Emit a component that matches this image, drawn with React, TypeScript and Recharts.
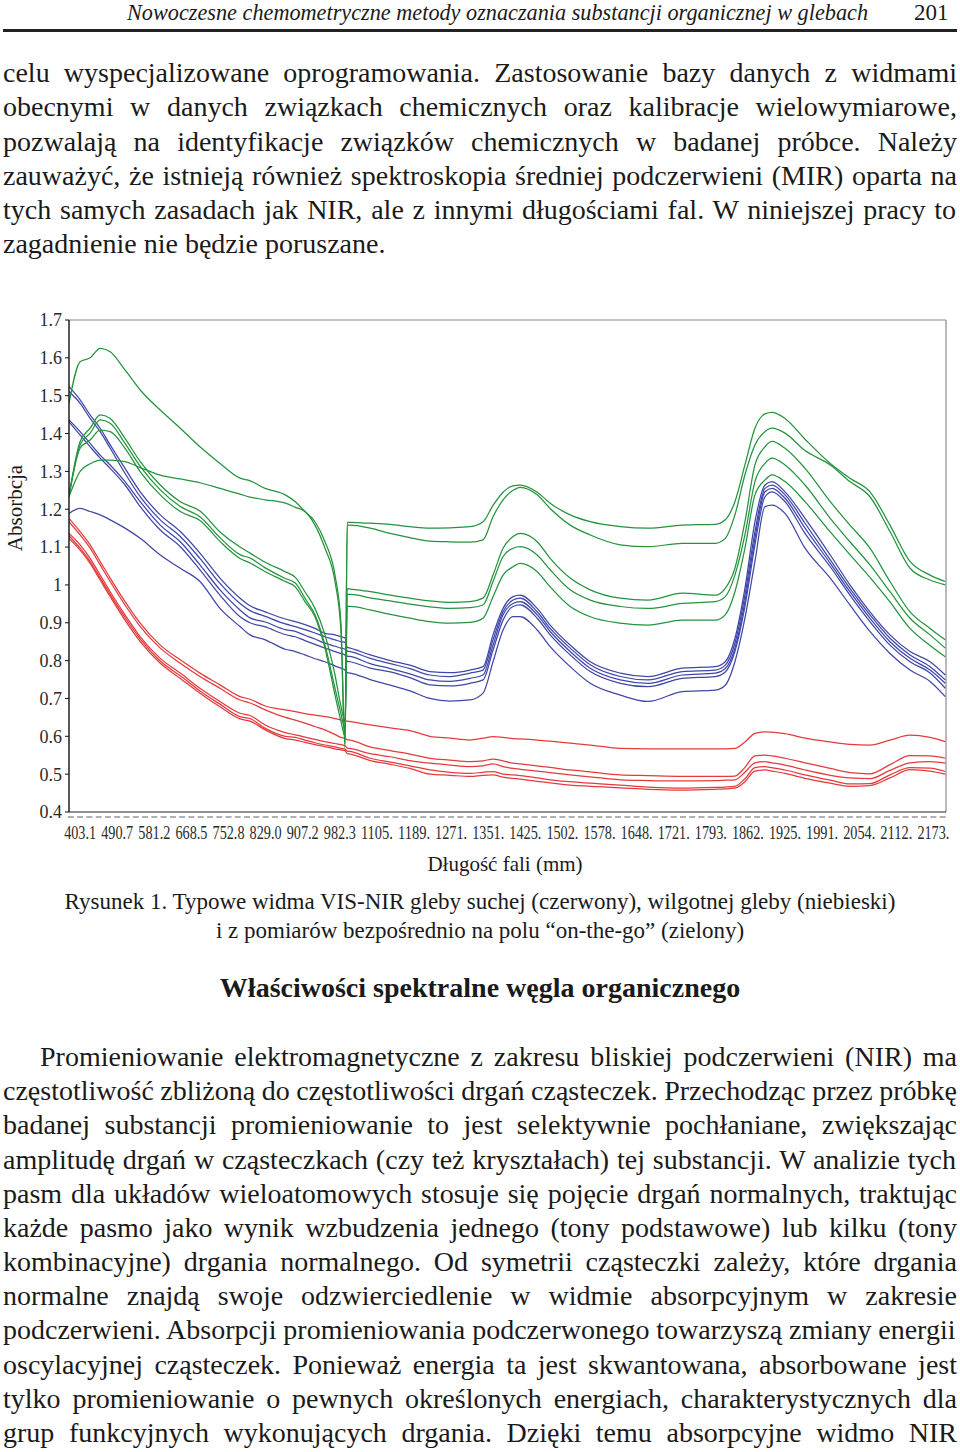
import React from "react";
import { LineChart, Line, XAxis, YAxis, ReferenceLine } from "recharts";

const SERIF = '"Liberation Serif", "Times New Roman", serif';

// tick labels of the category axis (one every label step)
const WAVELENGTH_LABELS = [
  "403.1", "490.7", "581.2", "668.5", "752.8", "829.0", "907.2", "982.3",
  "1105.", "1189.", "1271.", "1351.", "1425.", "1502.", "1578.", "1648.",
  "1721.", "1793.", "1862.", "1925.", "1991.", "2054.", "2112.", "2173.",
];

// sample positions along the axis, in label steps (0 = 403.1, 23 = 2173.)
const POSITION = [
  -0.3, 0, 0.27, 0.54, 0.81, 1.21, 1.62, 2.16, 2.7, 3.23, 3.77, 4.31, 4.58, 4.99,
  5.53, 5.8, 6.06, 6.33, 6.6, 6.87, 7.03, 7.14, 7.2, 7.28, 7.82, 8.36, 8.89, 9.43,
  9.97, 10.51, 10.86, 11.13, 11.4, 11.67, 11.86, 12.32, 12.67, 13.21, 13.75, 14.56,
  15.31, 16.23, 17.12, 17.39, 17.65, 17.92, 18.19, 18.46, 18.65, 19.0, 19.54, 20.22,
  20.75, 21.29, 21.83, 22.37, 22.91, 23.32,
];

// dry soil (red)
const DRY_1 = [1.176, 1.141, 1.106, 1.062, 1.018, 0.956, 0.899, 0.841, 0.802, 0.767, 0.736, 0.705, 0.698, 0.68, 0.67, 0.665, 0.66, 0.656, 0.652, 0.647, 0.643, 0.641, 0.64, 0.639, 0.63, 0.622, 0.615, 0.6, 0.595, 0.59, 0.595, 0.599, 0.597, 0.594, 0.593, 0.59, 0.587, 0.582, 0.577, 0.568, 0.567, 0.567, 0.567, 0.567, 0.568, 0.585, 0.608, 0.612, 0.611, 0.607, 0.595, 0.585, 0.579, 0.577, 0.59, 0.603, 0.597, 0.586];
const DRY_2 = [1.167, 1.132, 1.097, 1.053, 1.009, 0.947, 0.89, 0.833, 0.793, 0.758, 0.727, 0.696, 0.688, 0.67, 0.65, 0.643, 0.635, 0.626, 0.617, 0.605, 0.597, 0.595, 0.591, 0.59, 0.572, 0.562, 0.553, 0.542, 0.537, 0.533, 0.535, 0.54, 0.535, 0.529, 0.527, 0.522, 0.518, 0.511, 0.506, 0.498, 0.496, 0.494, 0.494, 0.494, 0.495, 0.518, 0.548, 0.55, 0.548, 0.542, 0.53, 0.515, 0.504, 0.501, 0.525, 0.549, 0.548, 0.542];
const DRY_3 = [1.136, 1.106, 1.07, 1.026, 0.982, 0.921, 0.863, 0.806, 0.767, 0.727, 0.692, 0.661, 0.655, 0.63, 0.61, 0.604, 0.598, 0.592, 0.586, 0.581, 0.578, 0.575, 0.569, 0.568, 0.554, 0.546, 0.536, 0.529, 0.524, 0.52, 0.522, 0.527, 0.52, 0.515, 0.513, 0.508, 0.504, 0.498, 0.493, 0.485, 0.483, 0.482, 0.483, 0.484, 0.485, 0.505, 0.53, 0.533, 0.53, 0.524, 0.511, 0.497, 0.49, 0.488, 0.51, 0.53, 0.533, 0.529];
const DRY_4 = [1.13, 1.097, 1.062, 1.018, 0.975, 0.914, 0.857, 0.799, 0.76, 0.72, 0.685, 0.652, 0.647, 0.621, 0.6, 0.597, 0.59, 0.583, 0.577, 0.572, 0.568, 0.566, 0.561, 0.56, 0.542, 0.532, 0.522, 0.511, 0.505, 0.502, 0.505, 0.507, 0.5, 0.498, 0.496, 0.49, 0.485, 0.48, 0.476, 0.471, 0.466, 0.463, 0.465, 0.466, 0.468, 0.488, 0.517, 0.52, 0.517, 0.511, 0.498, 0.484, 0.474, 0.475, 0.498, 0.517, 0.516, 0.507];
const DRY_5 = [1.123, 1.092, 1.057, 1.013, 0.969, 0.907, 0.85, 0.793, 0.753, 0.714, 0.678, 0.646, 0.64, 0.617, 0.594, 0.59, 0.584, 0.578, 0.573, 0.567, 0.564, 0.562, 0.554, 0.553, 0.536, 0.526, 0.515, 0.5, 0.497, 0.494, 0.497, 0.498, 0.492, 0.489, 0.487, 0.481, 0.477, 0.471, 0.468, 0.464, 0.46, 0.458, 0.46, 0.461, 0.463, 0.48, 0.508, 0.511, 0.508, 0.502, 0.489, 0.476, 0.468, 0.47, 0.49, 0.512, 0.508, 0.5];

// wet soil (blue)
const WET_1 = [1.524, 1.489, 1.449, 1.414, 1.37, 1.308, 1.246, 1.185, 1.141, 1.084, 1.018, 0.965, 0.945, 0.929, 0.91, 0.903, 0.895, 0.885, 0.872, 0.868, 0.863, 0.86, 0.835, 0.833, 0.815, 0.8, 0.788, 0.771, 0.768, 0.775, 0.784, 0.868, 0.938, 0.969, 0.973, 0.938, 0.894, 0.841, 0.797, 0.767, 0.758, 0.78, 0.784, 0.797, 0.859, 0.991, 1.167, 1.264, 1.273, 1.246, 1.176, 1.079, 1.0, 0.929, 0.868, 0.824, 0.797, 0.762];
const WET_2 = [1.511, 1.48, 1.44, 1.405, 1.361, 1.295, 1.233, 1.172, 1.128, 1.07, 1.004, 0.951, 0.932, 0.917, 0.897, 0.89, 0.882, 0.873, 0.863, 0.855, 0.85, 0.848, 0.825, 0.824, 0.806, 0.792, 0.779, 0.762, 0.758, 0.767, 0.775, 0.855, 0.929, 0.96, 0.965, 0.929, 0.885, 0.833, 0.789, 0.758, 0.749, 0.771, 0.775, 0.788, 0.846, 0.973, 1.141, 1.255, 1.264, 1.238, 1.163, 1.066, 0.991, 0.921, 0.859, 0.815, 0.784, 0.749];
const WET_3 = [1.436, 1.405, 1.374, 1.343, 1.317, 1.273, 1.22, 1.158, 1.114, 1.053, 0.987, 0.934, 0.913, 0.902, 0.882, 0.877, 0.867, 0.857, 0.846, 0.838, 0.833, 0.83, 0.812, 0.811, 0.792, 0.779, 0.765, 0.749, 0.745, 0.753, 0.762, 0.841, 0.921, 0.951, 0.956, 0.921, 0.877, 0.824, 0.78, 0.749, 0.74, 0.762, 0.767, 0.779, 0.833, 0.956, 1.123, 1.246, 1.255, 1.229, 1.15, 1.057, 0.982, 0.912, 0.85, 0.806, 0.775, 0.74];
const WET_4 = [1.431, 1.396, 1.365, 1.335, 1.308, 1.264, 1.207, 1.145, 1.101, 1.04, 0.973, 0.916, 0.9, 0.889, 0.869, 0.863, 0.853, 0.843, 0.833, 0.824, 0.819, 0.815, 0.798, 0.797, 0.78, 0.77, 0.755, 0.736, 0.733, 0.74, 0.749, 0.828, 0.907, 0.943, 0.947, 0.912, 0.868, 0.815, 0.771, 0.74, 0.731, 0.753, 0.758, 0.77, 0.824, 0.943, 1.106, 1.233, 1.246, 1.22, 1.136, 1.048, 0.973, 0.903, 0.841, 0.797, 0.767, 0.727];
const WET_5 = [1.189, 1.202, 1.194, 1.185, 1.172, 1.15, 1.123, 1.079, 1.044, 1.009, 0.938, 0.89, 0.868, 0.855, 0.83, 0.824, 0.815, 0.805, 0.797, 0.786, 0.78, 0.775, 0.768, 0.767, 0.75, 0.735, 0.72, 0.7, 0.693, 0.696, 0.714, 0.797, 0.881, 0.916, 0.916, 0.881, 0.837, 0.784, 0.74, 0.709, 0.692, 0.718, 0.722, 0.735, 0.797, 0.912, 1.062, 1.207, 1.211, 1.189, 1.097, 1.018, 0.947, 0.877, 0.819, 0.775, 0.745, 0.705];

// on-the-go field measurements (green)
const FIELD_1 = [1.48, 1.59, 1.6, 1.625, 1.616, 1.568, 1.515, 1.462, 1.414, 1.365, 1.321, 1.282, 1.275, 1.255, 1.238, 1.22, 1.194, 1.167, 1.114, 1.026, 0.9, 0.57, 1.165, 1.165, 1.163, 1.16, 1.154, 1.15, 1.151, 1.154, 1.167, 1.21, 1.245, 1.262, 1.264, 1.245, 1.216, 1.185, 1.167, 1.154, 1.15, 1.158, 1.16, 1.172, 1.22, 1.317, 1.414, 1.452, 1.456, 1.44, 1.385, 1.321, 1.282, 1.246, 1.158, 1.062, 1.026, 1.009];
const FIELD_2 = [1.235, 1.379, 1.414, 1.449, 1.44, 1.387, 1.326, 1.264, 1.22, 1.195, 1.14, 1.1, 1.084, 1.06, 1.035, 1.02, 0.982, 0.938, 0.868, 0.762, 0.68, 0.64, 0.99, 0.989, 0.982, 0.973, 0.965, 0.958, 0.954, 0.956, 0.965, 1.026, 1.097, 1.128, 1.136, 1.114, 1.07, 1.018, 0.987, 0.965, 0.96, 0.978, 0.973, 0.991, 1.044, 1.167, 1.317, 1.365, 1.379, 1.361, 1.308, 1.22, 1.158, 1.097, 1.009, 0.929, 0.885, 0.855];
const FIELD_3 = [1.235, 1.37, 1.401, 1.436, 1.427, 1.374, 1.313, 1.251, 1.207, 1.18, 1.125, 1.08, 1.071, 1.045, 1.017, 1.005, 0.965, 0.921, 0.841, 0.727, 0.66, 0.62, 0.975, 0.975, 0.966, 0.958, 0.949, 0.942, 0.938, 0.94, 0.947, 1.009, 1.075, 1.097, 1.101, 1.079, 1.04, 0.987, 0.96, 0.943, 0.938, 0.951, 0.956, 0.969, 1.026, 1.132, 1.273, 1.321, 1.335, 1.317, 1.264, 1.176, 1.114, 1.053, 0.982, 0.912, 0.868, 0.833];
const FIELD_4 = [1.235, 1.361, 1.383, 1.409, 1.405, 1.361, 1.299, 1.238, 1.194, 1.17, 1.115, 1.07, 1.058, 1.035, 1.009, 0.995, 0.956, 0.916, 0.833, 0.709, 0.64, 0.6, 0.943, 0.943, 0.934, 0.922, 0.912, 0.903, 0.899, 0.901, 0.912, 0.969, 1.026, 1.048, 1.057, 1.035, 0.995, 0.943, 0.916, 0.899, 0.894, 0.907, 0.907, 0.921, 0.982, 1.097, 1.238, 1.277, 1.291, 1.273, 1.22, 1.14, 1.08, 1.02, 0.955, 0.885, 0.84, 0.81];
const FIELD_5 = [1.233, 1.3, 1.32, 1.33, 1.33, 1.326, 1.31, 1.29, 1.28, 1.27, 1.255, 1.24, 1.232, 1.225, 1.216, 1.205, 1.194, 1.158, 1.097, 1.009, 0.88, 0.58, 1.158, 1.158, 1.15, 1.136, 1.125, 1.116, 1.114, 1.113, 1.119, 1.18, 1.225, 1.25, 1.258, 1.238, 1.202, 1.158, 1.132, 1.106, 1.101, 1.11, 1.11, 1.123, 1.185, 1.291, 1.37, 1.405, 1.414, 1.401, 1.355, 1.317, 1.273, 1.233, 1.141, 1.044, 1.013, 1.0];

const Y_TICKS = [0.4, 0.5, 0.6, 0.7, 0.8, 0.9, 1.0, 1.1, 1.2, 1.3, 1.4, 1.5, 1.6, 1.7];

const PARAGRAPH_1 = [
  "celu wyspecjalizowane oprogramowania. Zastosowanie bazy danych z widmami",
  "obecnymi w danych związkach chemicznych oraz kalibracje wielowymiarowe,",
  "pozwalają na identyfikacje związków chemicznych w badanej próbce. Należy",
  "zauważyć, że istnieją również spektroskopia średniej podczerwieni (MIR) oparta na",
  "tych samych zasadach jak NIR, ale z innymi długościami fal. W niniejszej pracy to",
  "zagadnienie nie będzie poruszane.",
];

const PARAGRAPH_2 = [
  "Promieniowanie elektromagnetyczne z zakresu bliskiej podczerwieni (NIR) ma",
  "częstotliwość zbliżoną do częstotliwości drgań cząsteczek. Przechodząc przez próbkę",
  "badanej substancji promieniowanie to jest selektywnie pochłaniane, zwiększając",
  "amplitudę drgań w cząsteczkach (czy też kryształach) tej substancji. W analizie tych",
  "pasm dla układów wieloatomowych stosuje się pojęcie drgań normalnych, traktując",
  "każde pasmo jako wynik wzbudzenia jednego (tony podstawowe) lub kilku (tony",
  "kombinacyjne) drgania normalnego. Od symetrii cząsteczki zależy, które drgania",
  "normalne znajdą swoje odzwierciedlenie w widmie absorpcyjnym w zakresie",
  "podczerwieni. Absorpcji promieniowania podczerwonego towarzyszą zmiany energii",
  "oscylacyjnej cząsteczek. Ponieważ energia ta jest skwantowana, absorbowane jest",
  "tylko promieniowanie o pewnych określonych energiach, charakterystycznych dla",
  "grup funkcyjnych wykonujących drgania. Dzięki temu absorpcyjne widmo NIR",
];

const RED = "#e53a3d";
const BLUE = "#3f47a8";
const GREEN = "#25933e";

const SERIES = [
  { key: "dry1", values: DRY_1, color: RED },
  { key: "dry2", values: DRY_2, color: RED },
  { key: "dry3", values: DRY_3, color: RED },
  { key: "dry4", values: DRY_4, color: RED },
  { key: "dry5", values: DRY_5, color: RED },
  { key: "wet1", values: WET_1, color: BLUE },
  { key: "wet2", values: WET_2, color: BLUE },
  { key: "wet3", values: WET_3, color: BLUE },
  { key: "wet4", values: WET_4, color: BLUE },
  { key: "wet5", values: WET_5, color: BLUE },
  { key: "field1", values: FIELD_1, color: GREEN },
  { key: "field2", values: FIELD_2, color: GREEN },
  { key: "field3", values: FIELD_3, color: GREEN },
  { key: "field4", values: FIELD_4, color: GREEN },
  { key: "field5", values: FIELD_5, color: GREEN },
];

const rows = POSITION.map((pos, i) => {
  const row: Record<string, number> = { pos };
  SERIES.forEach((s) => {
    row[s.key] = s.values[i];
  });
  return row;
});

const X_MIN = -0.3;
const X_MAX = 23.34;
// quarter steps give the dotted row under the axis, whole steps carry labels
const X_TICKS = Array.from({ length: 95 }, (_, i) => -0.25 + i * 0.25);

let ctx: CanvasRenderingContext2D | null = null;
function textWidth(text: string, font: string) {
  if (!ctx) ctx = document.createElement("canvas").getContext("2d");
  if (!ctx) return 0;
  ctx.font = font;
  return ctx.measureText(text).width;
}

const BODY_SIZE = 28;
const BODY_FONT = `${BODY_SIZE}px "Liberation Serif"`;

function BodyLine({ text, top, left, width, justify }: { text: string; top: number; left: number; width: number; justify: boolean }) {
  const spaces = (text.match(/ /g) || []).length;
  const natural = textWidth(text, BODY_FONT);
  const ws = justify && spaces ? (width - natural) / spaces : 0;
  return (
    <div
      style={{
        position: "absolute",
        left,
        top,
        height: 34,
        lineHeight: "34px",
        fontSize: BODY_SIZE,
        whiteSpace: "pre",
        wordSpacing: ws,
      }}
    >
      {text}
    </div>
  );
}

function WaveTick(props: any) {
  const { x, y, payload } = props;
  const v = payload.value as number;
  const label = Number.isInteger(v) ? WAVELENGTH_LABELS[v] : null;
  return (
    <g>
      <line x1={x - 3} x2={x + 3} y1={y + 5} y2={y + 5} stroke="#b0b0b0" strokeWidth={2} />
      {label && (
        <text
          x={x}
          y={y + 27}
          textAnchor="middle"
          fontSize={18}
          fontFamily={SERIF}
          fill="#2a2a2a"
          textLength={32}
          lengthAdjust="spacingAndGlyphs"
        >
          {label}
        </text>
      )}
    </g>
  );
}

function SpectraChart() {
  return (
    <LineChart
      width={960}
      height={560}
      data={rows}
      margin={{ top: 20, right: 14, left: 9, bottom: 18 }}
      style={{ fontFamily: SERIF }}
    >
      <XAxis
        dataKey="pos"
        type="number"
        domain={[X_MIN, X_MAX]}
        ticks={X_TICKS}
        interval={0}
        tick={<WaveTick />}
        tickLine={false}
        tickSize={0}
        tickMargin={0}
        axisLine={{ stroke: "#222" }}
        height={30}
        allowDataOverflow
      />
      <YAxis
        type="number"
        domain={[0.4, 1.7]}
        ticks={Y_TICKS}
        interval={0}
        width={60}
        tickSize={4}
        tickMargin={3}
        tickLine={{ stroke: "#111" }}
        axisLine={{ stroke: "#111", strokeWidth: 1.4 }}
        tick={{ fontSize: 18, fill: "#2a2a2a", fontFamily: SERIF }}
        tickFormatter={(v: number) => String(Number(v.toFixed(1)))}
        allowDataOverflow
      />
      <ReferenceLine y={1.7} stroke="#8a8a8a" strokeWidth={1.2} />
      <ReferenceLine x={X_MAX} stroke="#8a8a8a" strokeWidth={1.2} />
      {SERIES.map((s) => (
        <Line
          key={s.key}
          dataKey={s.key}
          type="monotone"
          stroke={s.color}
          strokeWidth={1.25}
          dot={false}
          activeDot={false}
          isAnimationActive={false}
        />
      ))}
    </LineChart>
  );
}

export default function App() {
  const headerText = "Nowoczesne chemometryczne metody oznaczania substancji organicznej w glebach";
  const headerNatural = textWidth(headerText, `italic 24px "Liberation Serif"`) || 741;
  const headerScale = 741 / headerNatural;

  return (
    <div
      style={{
        position: "relative",
        width: 960,
        height: 1452,
        overflow: "hidden",
        background: "#fff",
        color: "#1a1a1a",
        fontFamily: SERIF,
      }}
    >
      <style>{"body{margin:0}"}</style>

      <div
        style={{
          position: "absolute",
          left: 127,
          top: 0,
          fontSize: 24,
          lineHeight: "24px",
          fontStyle: "italic",
          whiteSpace: "pre",
          transform: `scaleX(${headerScale})`,
          transformOrigin: "left top",
        }}
      >
        {headerText}
      </div>
      <div style={{ position: "absolute", left: 914, top: 1, fontSize: 23, lineHeight: "24px" }}>201</div>
      <div style={{ position: "absolute", left: 3, top: 29, width: 954, height: 3, background: "#222" }} />

      {PARAGRAPH_1.map((t, i) => (
        <BodyLine
          key={`p1-${i}`}
          text={t}
          top={56 + i * 34.25}
          left={3}
          width={954}
          justify={i < PARAGRAPH_1.length - 1}
        />
      ))}

      <div style={{ position: "absolute", left: 0, top: 300 }}>
        <SpectraChart />
      </div>

      <div
        style={{
          position: "absolute",
          left: 15,
          top: 508,
          fontSize: 21,
          whiteSpace: "pre",
          transform: "translate(-50%, -50%) rotate(-90deg)",
        }}
      >
        Absorbcja
      </div>
      <div
        style={{
          position: "absolute",
          left: 505,
          top: 864,
          fontSize: 21,
          whiteSpace: "pre",
          transform: "translate(-50%, -50%)",
        }}
      >
        Długość fali (mm)
      </div>

      <div
        style={{
          position: "absolute",
          left: 0,
          width: 960,
          top: 887,
          fontSize: 23,
          lineHeight: "29px",
          textAlign: "center",
          whiteSpace: "pre",
        }}
      >
        {"Rysunek 1. Typowe widma VIS-NIR gleby suchej (czerwony), wilgotnej gleby (niebieski)\ni z pomiarów bezpośrednio na polu “on-the-go” (zielony)"}
      </div>

      <div
        style={{
          position: "absolute",
          left: 0,
          width: 960,
          top: 971,
          fontSize: 28,
          lineHeight: "34px",
          fontWeight: "bold",
          textAlign: "center",
        }}
      >
        Właściwości spektralne węgla organicznego
      </div>

      {PARAGRAPH_2.map((t, i) => (
        <BodyLine
          key={`p2-${i}`}
          text={t}
          top={1040 + i * 34.18}
          left={i === 0 ? 40 : 3}
          width={i === 0 ? 917 : 954}
          justify
        />
      ))}
    </div>
  );
}
